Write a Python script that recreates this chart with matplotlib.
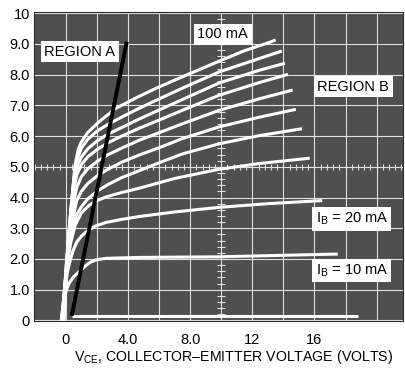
import numpy as np
import matplotlib
matplotlib.use("Agg")
import matplotlib.pyplot as plt

plt.rcParams['font.family'] = ['Liberation Sans', 'DejaVu Sans']
plt.rcParams['mathtext.fontset'] = 'custom'
plt.rcParams['mathtext.rm'] = 'Liberation Sans'

# collector curves (VCE volts, IC amps)
v_100 = [-0.12, 0.3, 0.6, 0.8, 1.0, 1.4, 2.1, 3.2, 4.7, 6.0, 7.5, 9.87, 11.5, 13.1, 13.5]
i_100 = [0, 3.5, 5.08, 5.57, 5.81, 6.11, 6.45, 6.9, 7.29, 7.6, 7.93, 8.44, 8.78, 9.05, 9.13]
v_90 = [-0.14, 0.25, 0.55, 0.75, 1.0, 1.4, 2.0, 2.7, 3.6, 4.7, 6.0, 7.5, 9.87, 12.0, 13.9]
i_90 = [0, 3.2, 4.78, 5.27, 5.61, 5.89, 6.16, 6.38, 6.62, 6.9, 7.21, 7.56, 8.09, 8.45, 8.77]
v_80 = [-0.16, 0.2, 0.5, 0.7, 1.0, 1.4, 2.0, 2.7, 3.6, 4.7, 6.0, 7.5, 9.87, 12.5, 14.1]
i_80 = [0, 2.9, 4.48, 4.98, 5.32, 5.58, 5.84, 6.06, 6.28, 6.55, 6.85, 7.19, 7.73, 8.15, 8.37]
v_70 = [-0.18, 0.15, 0.45, 0.7, 1.0, 1.4, 2.0, 2.7, 3.6, 4.7, 6.0, 7.5, 9.87, 12.5, 14.3]
i_70 = [0, 2.6, 4.1, 4.73, 5.07, 5.32, 5.56, 5.78, 6.0, 6.25, 6.52, 6.84, 7.33, 7.75, 8.01]
v_60 = [-0.2, 0.1, 0.4, 0.7, 1.0, 1.4, 2.0, 2.7, 3.6, 4.7, 6.0, 7.5, 9.87, 12.5, 14.6]
i_60 = [0, 2.3, 3.6, 4.33, 4.68, 4.93, 5.17, 5.39, 5.61, 5.86, 6.11, 6.4, 6.84, 7.22, 7.5]
v_50 = [-0.22, 0.05, 0.35, 0.7, 1.0, 1.4, 2.0, 2.7, 3.6, 4.7, 6.0, 7.5, 9.87, 12.5, 14.8]
i_50 = [0, 2.0, 3.1, 3.9, 4.2, 4.45, 4.7, 4.92, 5.15, 5.38, 5.62, 5.92, 6.3, 6.62, 6.87]
v_40 = [-0.24, 0.05, 0.35, 0.7, 1.0, 1.4, 2.0, 2.7, 3.6, 4.7, 6.0, 7.5, 9.87, 12.5, 15.2]
i_40 = [0, 1.8, 2.9, 3.45, 3.7, 3.95, 4.2, 4.42, 4.65, 4.87, 5.13, 5.42, 5.75, 6.02, 6.24]
v_30 = [-0.26, 0.0, 0.3, 0.6, 1.0, 1.5, 2.0, 2.6, 3.5, 4.7, 7.0, 9.87, 12.5, 15.7]
i_30 = [0, 1.5, 2.5, 3.1, 3.5, 3.75, 3.9, 4.02, 4.15, 4.3, 4.62, 4.92, 5.11, 5.28]
v_20 = [-0.28, -0.05, 0.2, 0.45, 0.7, 1.0, 1.4, 1.9, 2.6, 3.5, 4.7, 7.0, 9.87, 13.0, 16.5]
i_20 = [0, 1.2, 1.8, 2.25, 2.55, 2.74, 2.92, 3.07, 3.19, 3.28, 3.38, 3.53, 3.68, 3.8, 3.9]
v_10 = [-0.3, -0.1, 0.2, 0.5, 0.8, 1.0, 1.3, 1.6, 2.0, 2.6, 4.7, 9.87, 17.5]
i_10 = [0, 0.8, 1.2, 1.42, 1.56, 1.65, 1.79, 1.9, 1.98, 2.02, 2.05, 2.07, 2.16]
v_0 = [0.4, 18.8]
i_0 = [0.15, 0.15]

# saturation boundary (region A / region B)
v_sat = [0.38, 3.92]
i_sat = [0.15, 9.07]

x_ticks = [0, 2, 4, 6, 8, 10, 12, 14, 16, 18, 20]
x_labels = ['0', '', '4.0', '', '8.0', '', '12', '', '16', '', '']
y_ticks = [0, 1, 2, 3, 4, 5, 6, 7, 8, 9, 10]
y_labels = ['0', '1.0', '2.0', '3.0', '4.0', '5.0', '6.0', '7.0', '8.0', '9.0', '10']

fig = plt.figure(figsize=(4.05, 3.69), dpi=100)
ax = fig.add_axes([34/405, 1-321/369, 369/405, 309/369])
ax.set_facecolor('#4f4f4f')
ax.set_xlim(-2.05, 21.7)
ax.set_ylim(-0.02, 10.04)

ax.set_xticks(x_ticks)
ax.set_xticklabels(x_labels)
ax.set_yticks(y_ticks)
ax.set_yticklabels(y_labels)
ax.tick_params(axis='both', length=0, labelsize=10.5)
ax.tick_params(axis='x', pad=9)
ax.tick_params(axis='y', pad=3)
ax.grid(color='#e0e0e0', lw=0.8)
ax.set_axisbelow(True)
for s in ax.spines.values():
    s.set_color('#2a2a2a')

# graticule centre marks
xm = np.arange(-2.0, 21.7, 0.4)
ym = np.arange(0, 10.05, 0.2)
ax.plot(xm, np.full(len(xm), 5.0), ls='none', marker='|', ms=5, mew=0.8, color='#e0e0e0', zorder=1)
ax.plot(np.full(len(ym), 10.0), ym, ls='none', marker='_', ms=6, mew=0.8, color='#e0e0e0', zorder=1)

for v, i in [(v_100, i_100), (v_90, i_90), (v_80, i_80), (v_70, i_70), (v_60, i_60),
             (v_50, i_50), (v_40, i_40), (v_30, i_30), (v_20, i_20), (v_10, i_10), (v_0, i_0)]:
    ax.plot(v, i, color='white', lw=2.2, solid_joinstyle='round', solid_capstyle='butt', zorder=3)

ax.plot(v_sat, i_sat, color='black', lw=2.8, solid_capstyle='butt', zorder=4)

box = dict(facecolor='white', edgecolor='none', pad=2.5)
ax.text(0.9, 8.74, 'REGION A', fontsize=10.5, ha='center', va='center', bbox=box, zorder=5)
ax.text(10.1, 9.32, '100 mA', fontsize=10.5, ha='center', va='center', bbox=box, zorder=5)
ax.text(18.5, 7.6, 'REGION B', fontsize=10.5, ha='center', va='center', bbox=box, zorder=5)
ax.text(18.4, 3.3, r'I$_{\mathrm{B}}$ = 20 mA', fontsize=10.5, ha='center', va='center', bbox=box, zorder=5)
ax.text(18.4, 1.62, r'I$_{\mathrm{B}}$ = 10 mA', fontsize=10.5, ha='center', va='center', bbox=box, zorder=5)

fig.text(234/405, 1-357/369, r'V$_{\mathrm{CE}}$, COLLECTOR–EMITTER VOLTAGE (VOLTS)',
         fontsize=10.2, ha='center', va='center')

fig.savefig('out.png', dpi=100)
